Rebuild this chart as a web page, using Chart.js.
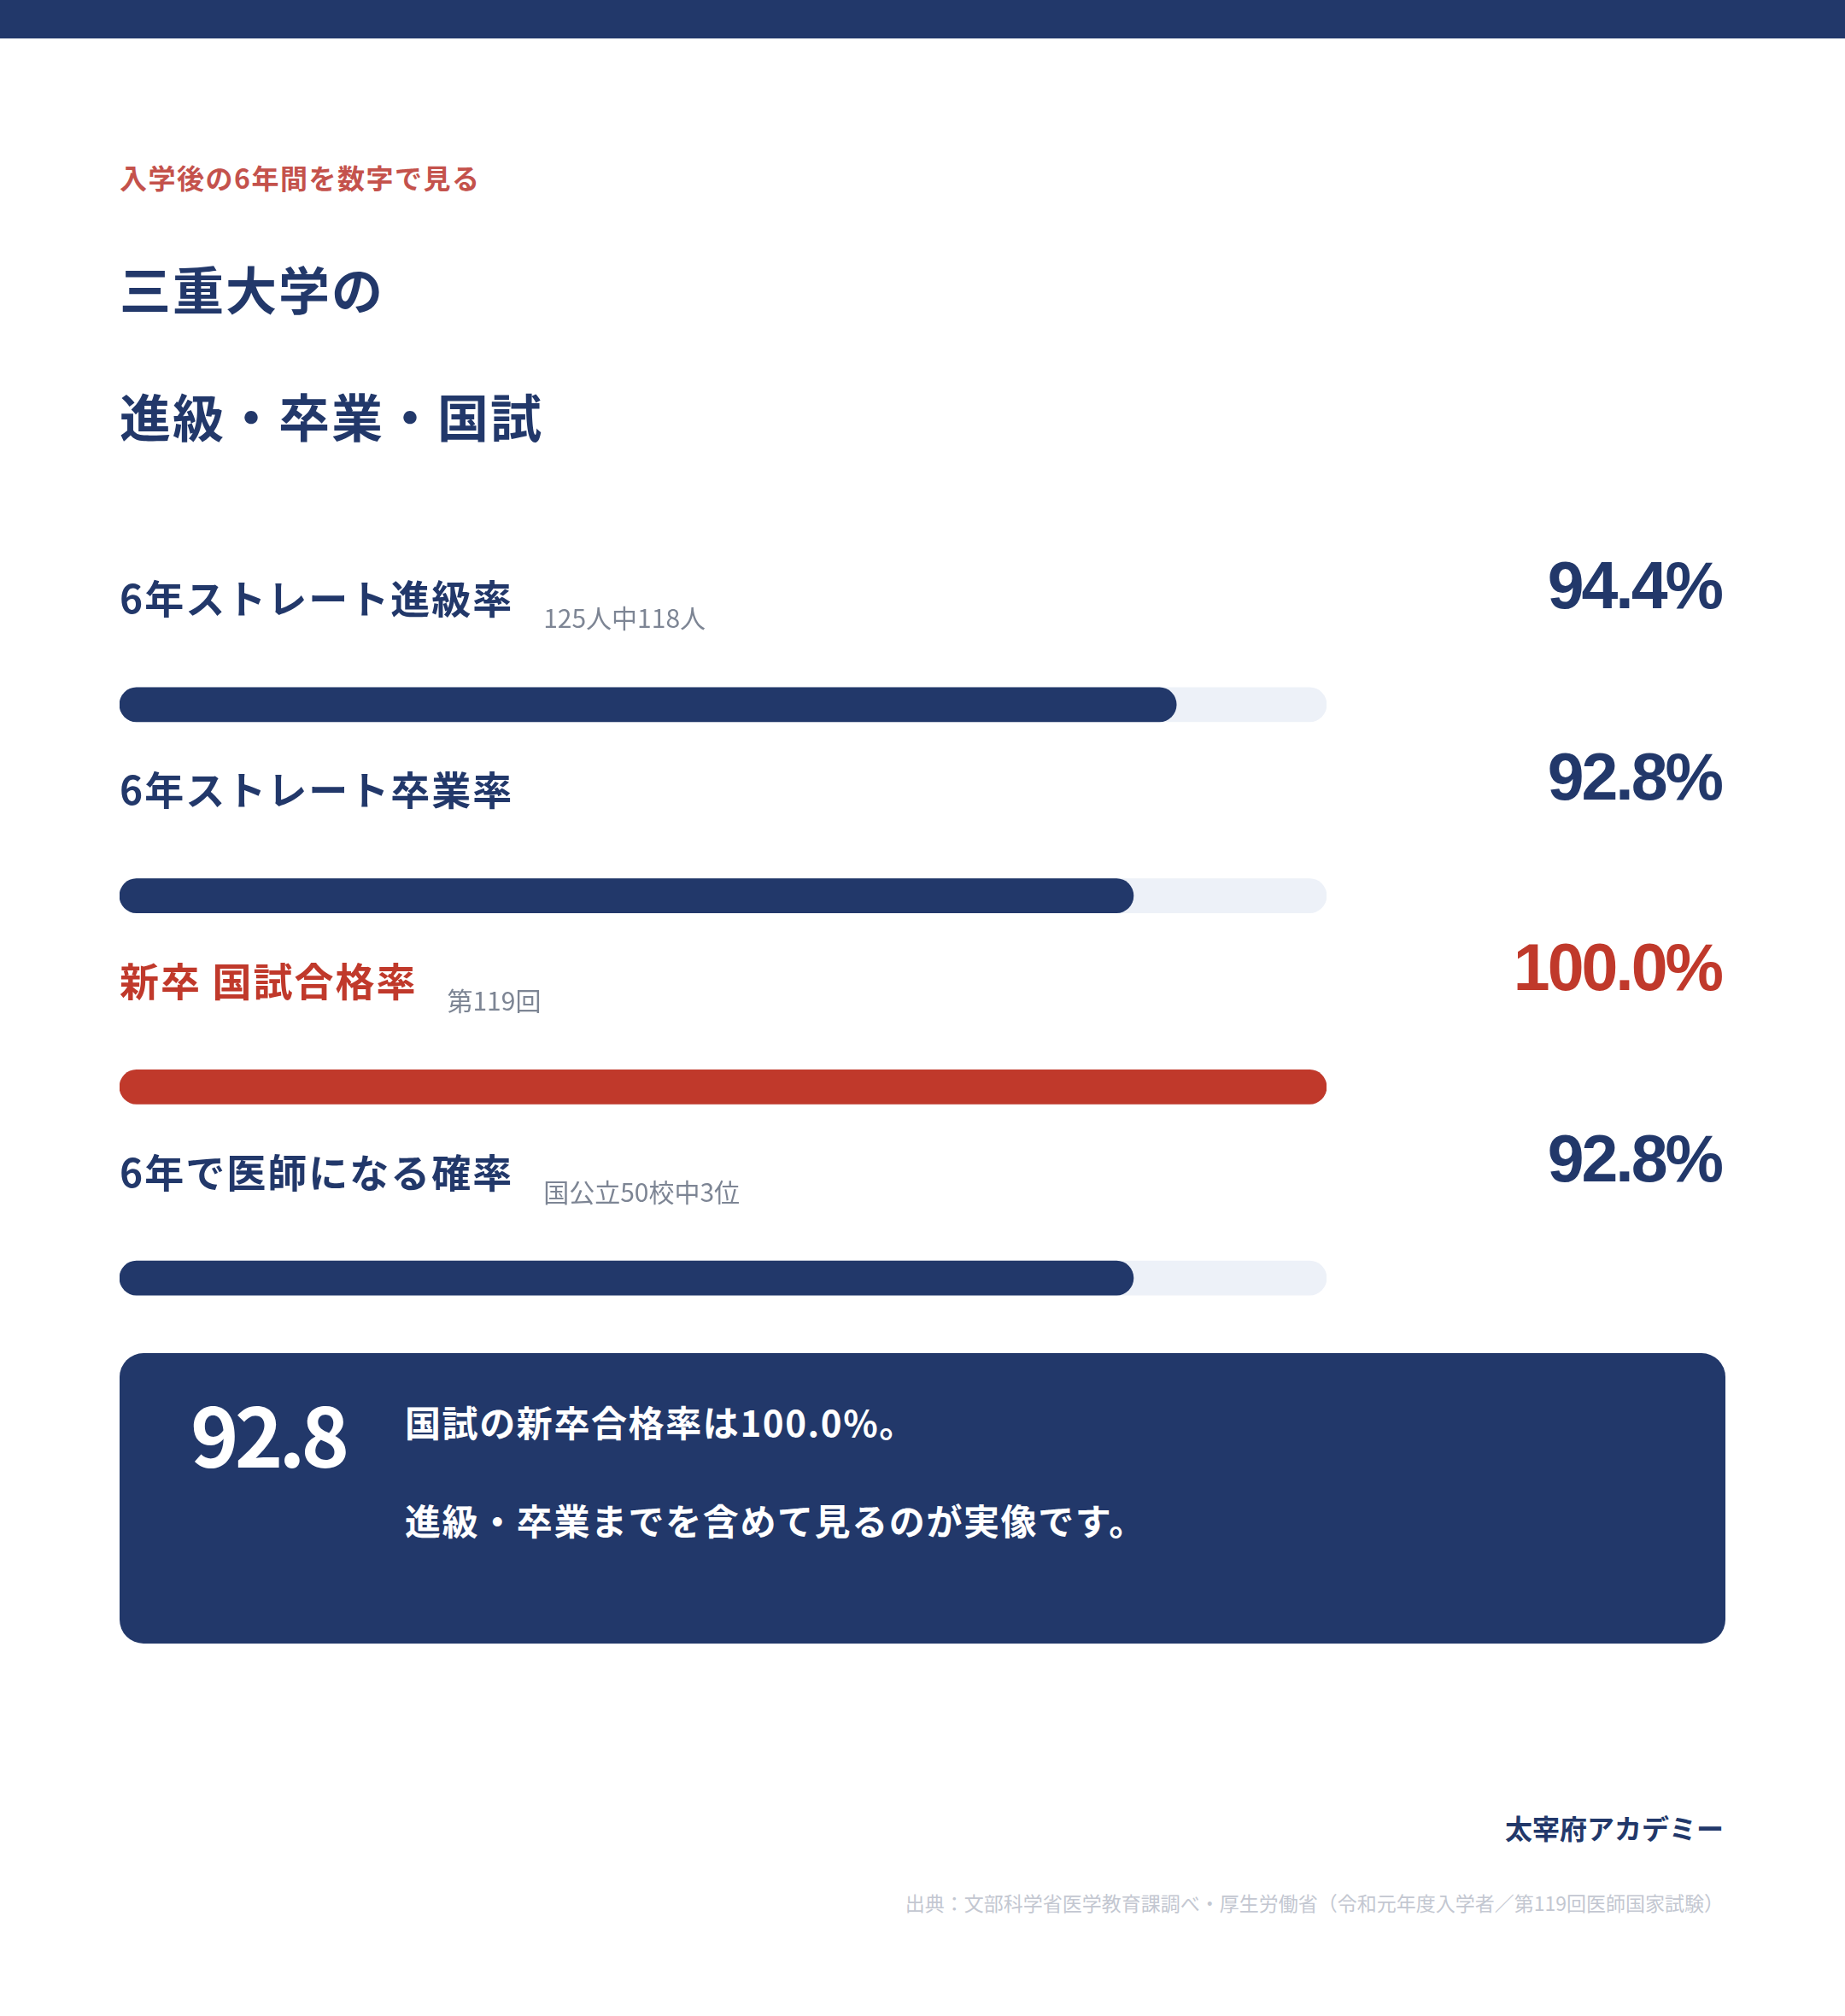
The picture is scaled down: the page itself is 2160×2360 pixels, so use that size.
<!DOCTYPE html>
<html lang="ja">
<head>
<meta charset="utf-8">
<title>三重大学の進級・卒業・国試</title>
<script src="https://cdn.jsdelivr.net/npm/chart.js@4.4.1/dist/chart.umd.min.js"></script>
<style>
  html, body { margin: 0; padding: 0; background: #fff; }
  body { width: 2160px; height: 2360px; position: relative; overflow: hidden;
         font-family: "Noto Sans CJK JP", "Noto Sans", sans-serif; color: #22386a; }
  .topbar { position: absolute; left: 0; top: 0; width: 2160px; height: 45px; background: #22386a; }
  .abs { position: absolute; line-height: 1; white-space: nowrap; }
  .kicker { left: 140px; top: 191px; font-size: 32px; font-weight: 700; color: #c4524c; letter-spacing: 1.5px; }
  .title { left: 140px; font-size: 60px; font-weight: 700; color: #22386a; letter-spacing: 2px; }
  #chartWrap { position: absolute; left: 0; top: 600px; width: 2160px; height: 1010px; }
  .callout { position: absolute; left: 140px; top: 1584px; width: 1880px; height: 340px;
             background: #22386a; border-radius: 28px; z-index: 2; }
  .bignum { left: 83px; top: 45px; font-size: 96px; font-weight: 700; color: #fff; letter-spacing: -5px; }
  .msg { left: 334px; font-size: 42px; font-weight: 700; color: #fff; letter-spacing: 1.6px; }
  .brand { right: 142px; top: 2123px; font-size: 32px; font-weight: 700; color: #22386a; }
  .source { right: 142px; top: 2216px; font-size: 23px; font-weight: 400; color: #c3c7d1; }
</style>
</head>
<body>
<div class="topbar"></div>
<div class="abs kicker">入学後の6年間を数字で見る</div>
<div class="abs title" style="top:307px">三重大学の</div>
<div class="abs title" style="top:456px">進級・卒業・国試</div>

<div id="chartWrap"><canvas id="rateChart" width="2160" height="1010"></canvas></div>

<div class="callout">
  <div class="abs bignum">92.8</div>
  <div class="abs msg" style="top:59px">国試の新卒合格率は100.0%。</div>
  <div class="abs msg" style="top:174px">進級・卒業までを含めて見るのが実像です。</div>
</div>

<div class="abs brand">太宰府アカデミー</div>
<div class="abs source">出典：文部科学省医学教育課調べ・厚生労働省（令和元年度入学者／第119回医師国家試験）</div>

<script>
// data
const rowLabels = ['6年ストレート進級率', '6年ストレート卒業率', '新卒 国試合格率', '6年で医師になる確率'];
const rowNotes = ['125人中118人', '', '第119回', '国公立50校中3位'];
const rates = [94.4, 92.8, 100.0, 92.8];
const trackValues = [100, 100, 100, 100];
const axisMin = 55;
const axisMax = 100;

const navy = '#22386a';
const red = '#c0392b';
const barColors = [navy, navy, red, navy];

// labels above each bar and the big percentage on the right
const rowText = {
    id: 'rowText',
    afterDatasetsDraw(chart) {
        const ctx = chart.ctx;
        const area = chart.chartArea;
        const yScale = chart.scales.y;
        ctx.save();
        rowLabels.forEach(function(label, i) {
            const y = yScale.getPixelForValue(i);
            const color = barColors[i];

            ctx.fillStyle = color;
            ctx.textAlign = 'left';
            ctx.textBaseline = 'middle';
            ctx.letterSpacing = '2px';
            ctx.font = '700 46px "Noto Sans CJK JP"';
            ctx.fillText(label, area.left, y - 124);
            const w = ctx.measureText(label).width;

            if (rowNotes[i]) {
                ctx.fillStyle = '#7d8594';
                ctx.letterSpacing = '0px';
                ctx.font = '400 30px "Noto Sans CJK JP"';
                ctx.fillText(rowNotes[i], area.left + w + 35, y - 101);
            }

            ctx.fillStyle = color;
            ctx.textAlign = 'right';
            ctx.textBaseline = 'alphabetic';
            ctx.letterSpacing = '-3px';
            ctx.font = '700 77px "Liberation Sans"';
            ctx.fillText(rates[i].toFixed(1) + '%', chart.width - 145, y - 113);
        });
        ctx.restore();
    }
};

const ctx = document.getElementById('rateChart').getContext('2d');
const rateChart = new Chart(ctx, {
    type: 'bar',
    data: {
        labels: rowLabels,
        datasets: [{
            label: '割合',
            data: rates,
            backgroundColor: barColors,
            base: axisMin,
            barThickness: 40,
            borderRadius: 20,
            borderSkipped: false,
            grouped: false,
            order: 1
        },
        {
            label: 'track',
            data: trackValues,
            backgroundColor: '#edf1f8',
            base: axisMin,
            barThickness: 40,
            borderRadius: 20,
            borderSkipped: false,
            grouped: false,
            order: 2
        }]
    },
    options: {
        indexAxis: 'y',
        responsive: false,
        animation: false,
        devicePixelRatio: 1,
        layout: {
            padding: { left: 140, right: 607, top: 113, bottom: 2 }
        },
        scales: {
            x: { display: false, min: axisMin, max: axisMax },
            y: { display: false }
        },
        plugins: {
            legend: { display: false },
            tooltip: { enabled: false }
        }
    },
    plugins: [rowText]
});
</script>
</body>
</html>
